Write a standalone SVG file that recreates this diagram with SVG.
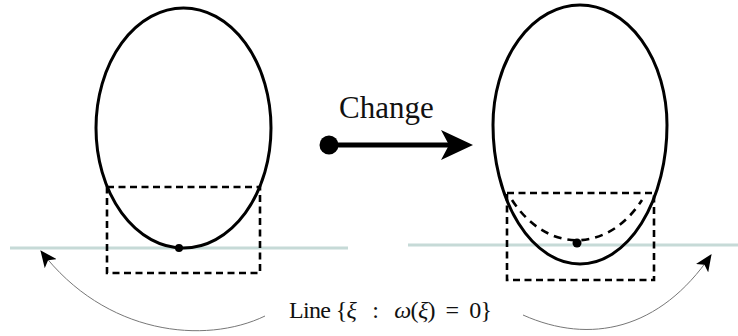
<svg xmlns="http://www.w3.org/2000/svg" width="738" height="336" viewBox="0 0 738 336">
<defs>
<style>
.shape{fill:none;stroke:#000;stroke-width:3}
.box{fill:none;stroke:#000;stroke-width:2.6;stroke-dasharray:7,4.5}
.dash{fill:none;stroke:#000;stroke-width:2.6;stroke-dasharray:8,6}
.zero{stroke:#c6dad7;stroke-width:3}
.curve{fill:none;stroke:#777;stroke-width:1}
.lbl{font-family:"Liberation Serif","DejaVu Serif",serif;fill:#111;white-space:pre}
</style>
<marker id="head" viewBox="0 0 16 14" refX="15" refY="7" markerWidth="17" markerHeight="15" markerUnits="userSpaceOnUse" orient="auto">
<path d="M0,0 L16,7 L0,14 L4,7 Z" fill="#000"/>
</marker>
</defs>
<rect width="738" height="336" fill="#fff"/>
<g id="before">
<line class="zero" x1="10" y1="248" x2="348" y2="248"/>
<ellipse class="shape" cx="183.5" cy="128" rx="87.5" ry="120"/>
<rect class="box" x="107" y="187" width="153" height="86"/>
<circle cx="179" cy="248" r="4" fill="#000"/>
</g>
<g id="after">
<line class="zero" x1="408" y1="245" x2="738" y2="245"/>
<path class="shape" d="M493,125 A87,120 0 0 1 667,125 A87,139 0 0 1 493,125 Z"/>
<path class="dash" d="M512,200 A87,120 0 0 0 642,200"/>
<rect class="box" x="507" y="193" width="147" height="87"/>
<circle cx="577" cy="243" r="4.5" fill="#000"/>
</g>
<g id="change">
<text class="lbl" x="339" y="118" font-size="31">Change</text>
<circle cx="329" cy="145" r="9.5" fill="#000"/>
<line x1="329" y1="145" x2="452" y2="145" stroke="#000" stroke-width="5"/>
<path d="M473,145 L441,130 L449,145 L441,160 Z" fill="#000"/>
</g>
<g id="connectors">
<path class="curve" d="M265,316 C205,345 105,335 41,251" marker-end="url(#head)"/>
<path class="curve" d="M523,315 C590,345 660,330 711,255" marker-end="url(#head)"/>
</g>
<g id="label">
<text class="lbl" x="289" y="318" font-size="24" textLength="203" lengthAdjust="spacing">Line {<tspan font-style="italic">ξ</tspan>   :   <tspan font-style="italic">ω</tspan>(<tspan font-style="italic">ξ</tspan>)  =  0}</text>
</g>
</svg>
